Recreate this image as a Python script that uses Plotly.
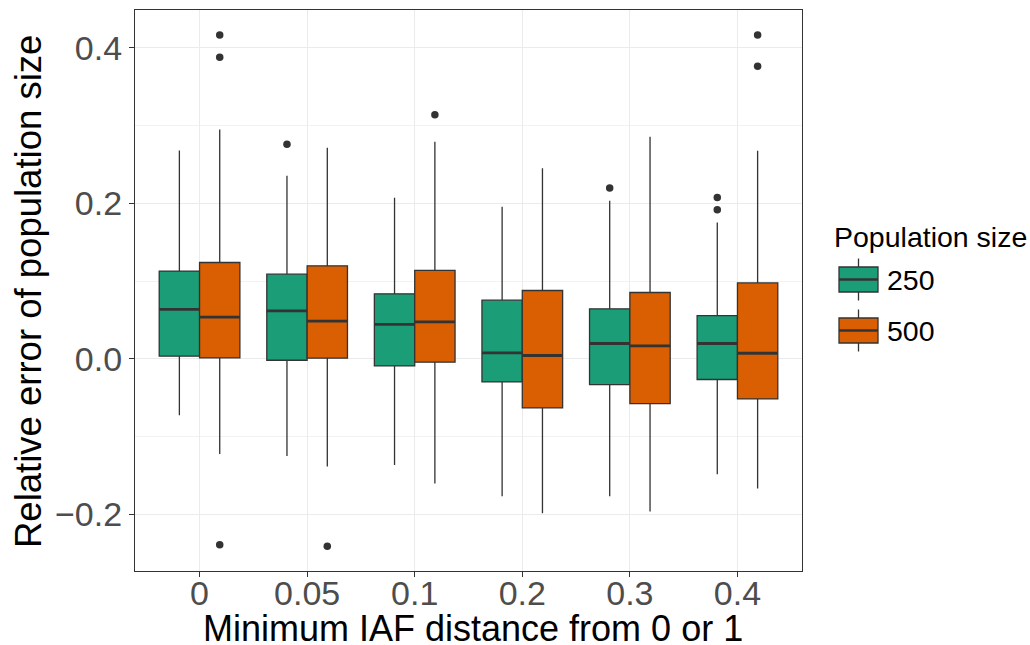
import plotly.graph_objects as go

categories = ["0", "0.05", "0.1", "0.2", "0.3", "0.4"]
groups = ["250", "500"]
colors = {"250": "#1B9E77", "500": "#D95F02"}

# Box statistics per group (one value per category)
q1 = {"250": [0.0035, -0.0017, -0.0090, -0.0296, -0.0330, -0.0265],
      "500": [0.0013, 0.0009, -0.0042, -0.0630, -0.0575, -0.0515]}
median = {"250": [0.0636, 0.0618, 0.0443, 0.0077, 0.0198, 0.0198],
          "500": [0.0537, 0.0485, 0.0476, 0.0044, 0.0168, 0.0073]}
q3 = {"250": [0.1130, 0.1090, 0.0837, 0.0755, 0.0644, 0.0558],
      "500": [0.1240, 0.1197, 0.1138, 0.0880, 0.0854, 0.0978]}
lower = {"250": [-0.0725, -0.1248, -0.1364, -0.1767, -0.1767, -0.1484],
         "500": [-0.1223, -0.1385, -0.1604, -0.1986, -0.1964, -0.1668]}
upper = {"250": [0.2680, 0.2355, 0.2072, 0.1956, 0.2034, 0.1755],
         "500": [0.2952, 0.2716, 0.2793, 0.2454, 0.2857, 0.2677]}
# Outliers: (category index, value)
outliers = {"250": [(1, 0.276), (4, 0.2197), (5, 0.2077), (5, 0.1918)],
            "500": [(0, 0.4166), (0, 0.388), (0, -0.2389), (1, -0.241),
                    (2, 0.314), (5, 0.4166), (5, 0.3763)]}

x_title = "Minimum IAF distance from 0 or 1"
y_title = "Relative error of population size"
legend_title = "Population size"

dodge = 0.75
bw = dodge / 2
offsets = {"250": -bw / 2, "500": bw / 2}
edge = "#333333"

fig = go.Figure()
for g in groups:
    xs = [i + 1 + offsets[g] for i in range(len(categories))]
    fig.add_trace(go.Box(
        x=xs, q1=q1[g], median=median[g], q3=q3[g],
        lowerfence=lower[g], upperfence=upper[g],
        width=bw, whiskerwidth=0, boxpoints=False,
        fillcolor=colors[g], line=dict(color=edge, width=1.3),
        name=g, showlegend=False, hoverinfo="skip"))
    # thicker median lines
    mx, my = [], []
    for x, m in zip(xs, median[g]):
        mx += [x - bw / 2, x + bw / 2, None]
        my += [m, m, None]
    fig.add_trace(go.Scatter(x=mx, y=my, mode="lines",
                             line=dict(color=edge, width=2.8),
                             showlegend=False, hoverinfo="skip"))
    fig.add_trace(go.Scatter(
        x=[i + 1 + offsets[g] for i, _ in outliers[g]],
        y=[v for _, v in outliers[g]], mode="markers",
        marker=dict(color=edge, size=7.5), showlegend=False, hoverinfo="skip"))

# Panel placement in pixels and paper-coordinate helpers
L, R, T, B = 135, 802, 10, 571
def px(x): return (x - L) / (R - L)
def py(y): return (B - y) / (B - T)

# Axis titles
fig.add_annotation(x=px(473), y=py(628), xref="paper", yref="paper",
                   text=x_title, showarrow=False, xanchor="center",
                   yanchor="middle", font=dict(size=36, color="black"))
fig.add_annotation(x=px(28), y=py(292), xref="paper", yref="paper",
                   text=y_title, showarrow=False, textangle=-90,
                   xanchor="center", yanchor="middle",
                   font=dict(size=36.5, color="black"))

# Custom ggplot-like legend
fig.add_annotation(x=px(832), y=py(237), xref="paper", yref="paper",
                   text=legend_title, showarrow=False, xanchor="left",
                   yanchor="middle", font=dict(size=28.5, color="black"))
keys = [("250", 279.5), ("500", 330.5)]
for g, cy in keys:
    fig.add_shape(type="line", xref="paper", yref="paper",
                  x0=px(858.5), x1=px(858.5), y0=py(cy - 21), y1=py(cy + 21),
                  line=dict(color=edge, width=1.3))
    fig.add_shape(type="rect", xref="paper", yref="paper",
                  x0=px(839), x1=px(878), y0=py(cy - 12.5), y1=py(cy + 12.5),
                  fillcolor=colors[g], line=dict(color=edge, width=1.3))
    fig.add_shape(type="line", xref="paper", yref="paper",
                  x0=px(839), x1=px(878), y0=py(cy), y1=py(cy),
                  line=dict(color=edge, width=2.5))
    fig.add_annotation(x=px(885), y=py(cy), xref="paper", yref="paper",
                       text=g, showarrow=False, xanchor="left", yanchor="middle",
                       font=dict(size=28.5, color="black"))

fig.update_layout(
    width=1030, height=645,
    margin=dict(l=L, r=1030 - R, t=T, b=645 - B, autoexpand=False),
    paper_bgcolor="white", plot_bgcolor="white",
    font=dict(family="Liberation Sans, Arial, sans-serif"),
    showlegend=False,
    xaxis=dict(range=[0.4, 6.6], tickmode="array", automargin=False,
               tickvals=list(range(1, len(categories) + 1)), ticktext=categories,
               showgrid=True, gridcolor="#EBEBEB", gridwidth=1.1,
               showline=True, linecolor=edge, linewidth=1.2, mirror=True,
               ticks="outside", ticklen=5, tickcolor=edge, tickwidth=1.1,
               ticklabelstandoff=-13,
               tickfont=dict(size=34, color="#4D4D4D"),
               zeroline=False),
    yaxis=dict(range=[-0.2728, 0.4488], tickmode="array", automargin=False,
               tickvals=[-0.2, 0.0, 0.2, 0.4],
               ticktext=["\u22120.2", "0.0", "0.2", "0.4"],
               showgrid=True, gridcolor="#EBEBEB", gridwidth=1.1,
               minor=dict(tickvals=[-0.1, 0.1, 0.3], showgrid=True,
                          gridcolor="#F2F2F2", gridwidth=0.6),
               showline=True, linecolor=edge, linewidth=1.2, mirror=True,
               ticks="outside", ticklen=5, tickcolor=edge, tickwidth=1.1,
               tickfont=dict(size=34, color="#4D4D4D"),
               zeroline=False),
)

fig.write_html("out.html")
